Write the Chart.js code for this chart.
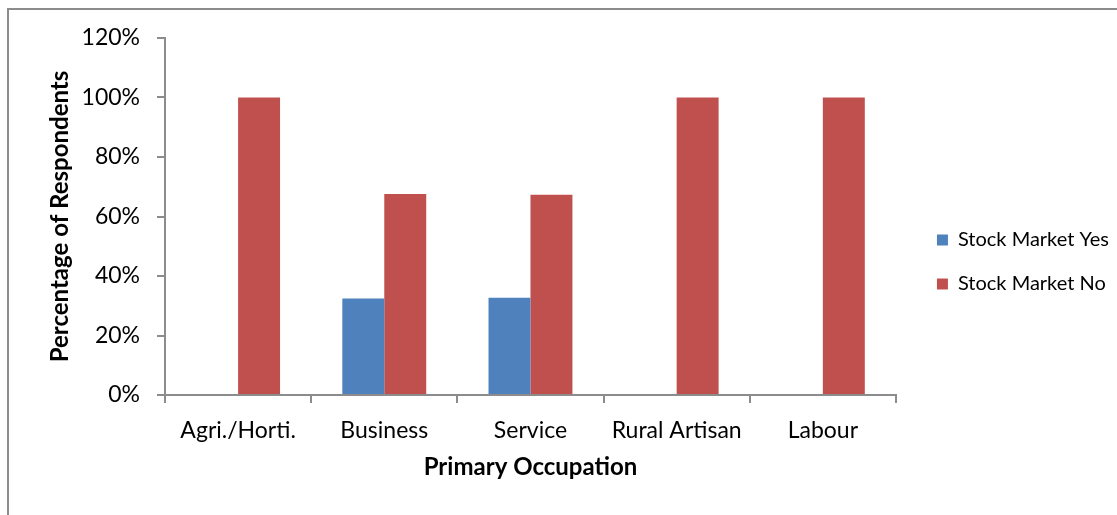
<!DOCTYPE html>
<html>
<head>
<meta charset="utf-8">
<script src="https://cdn.jsdelivr.net/npm/chart.js@4/dist/chart.umd.min.js"></script>
<style>
  html, body { margin: 0; padding: 0; background: #fff; }
  #wrap { position: relative; width: 1117px; height: 515px; }
  #frame { position: absolute; left: 7px; top: 8px; right: -10px; bottom: -10px;
           border: 2px solid #8c8c8c; pointer-events: none; }
  canvas { position: absolute; left: 0; top: 0; }
</style>
</head>
<body>
<div id="wrap">
  <canvas id="chart" width="1117" height="515"></canvas>
  <div id="frame"></div>
</div>
<script>
const occupations = ['Agri./Horti.', 'Business', 'Service', 'Rural Artisan', 'Labour'];
const stockYes = [0, 32.4, 32.7, 0, 0];
const stockNo = [100, 67.6, 67.3, 100, 100];
const yTicks = [0, 20, 40, 60, 80, 100, 120];

const axisGray = '#8c8c8c';
const fontFamily = 'Lato, "Open Sans", sans-serif';

// push the legend items a little right of the plot edge
const legendInset = {
  id: 'legendInset',
  beforeDraw(chart) {
    const lg = chart.legend;
    const w = lg.width;
    lg.left = chart.chartArea.right + 17;
    lg.right = lg.left + w;
  }
};

const ctx = document.getElementById('chart').getContext('2d');
new Chart(ctx, {
  type: 'bar',
  data: {
    labels: occupations,
    datasets: [
      { label: 'Stock Market Yes', data: stockYes, backgroundColor: '#4f81bd' },
      { label: 'Stock Market No', data: stockNo, backgroundColor: '#c0504d' }
    ]
  },
  options: {
    responsive: false,
    animation: false,
    devicePixelRatio: 1,
    layout: { padding: { top: 38, left: 42, bottom: 29, right: 15 } },
    datasets: { bar: { categoryPercentage: 0.574, barPercentage: 1 } },
    scales: {
      x: {
        grid: { display: true, drawOnChartArea: false, drawTicks: true, tickLength: 8,
                color: axisGray, lineWidth: 2 },
        border: { display: true, color: axisGray, width: 2 },
        ticks: { color: '#000', padding: 14, font: { family: fontFamily, size: 23 } },
        title: { display: true, text: 'Primary Occupation', color: '#000',
                 font: { family: fontFamily, size: 24, weight: 'bold' } },
        afterFit(scale) { scale.height = 91; }
      },
      y: {
        min: 0,
        max: 120,
        afterBuildTicks(scale) { scale.ticks = yTicks.map(v => ({ value: v })); },
        grid: { display: true, drawOnChartArea: false, drawTicks: true, tickLength: 8,
                color: axisGray, lineWidth: 2 },
        border: { display: true, color: axisGray, width: 2 },
        ticks: { color: '#000', padding: 17, font: { family: fontFamily, size: 23 },
                 callback: v => v + '%' },
        title: { display: true, text: 'Percentage of Respondents', color: '#000',
                 font: { family: fontFamily, size: 24, weight: 'bold' } },
        afterFit(scale) { scale.width = 123; }
      }
    },
    plugins: {
      tooltip: { enabled: false },
      legend: {
        position: 'right',
        labels: { boxWidth: 11, boxHeight: 11, padding: 24, color: '#000',
                  font: { family: fontFamily, size: 20 } }
      }
    }
  },
  plugins: [legendInset]
});
</script>
</body>
</html>
